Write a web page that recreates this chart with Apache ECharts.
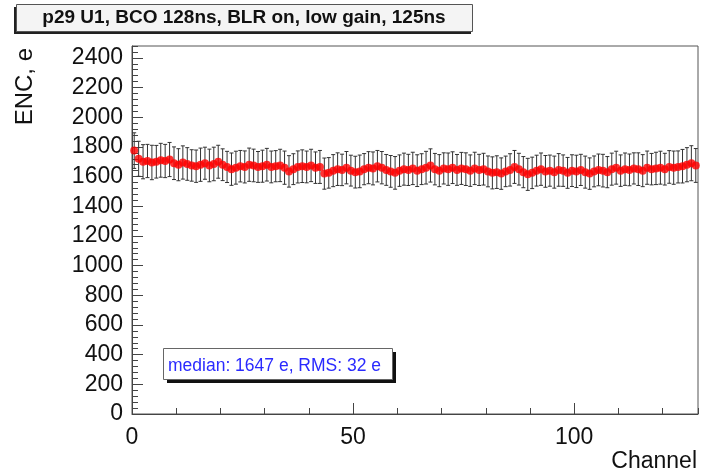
<!DOCTYPE html>
<html>
<head>
<meta charset="utf-8">
<script src="https://cdn.jsdelivr.net/npm/echarts@6/dist/echarts.min.js"></script>
<style>
  html, body { margin: 0; padding: 0; background: #fff; }
  #echarts { width: 702px; height: 473px; }
</style>
</head>
<body>
<div id="echarts"></div>
<script>
// 图数据
var titleText = 'p29 U1, BCO 128ns, BLR on, low gain, 125ns';
var statText = 'median: 1647 e, RMS: 32 e';
var xTicks = [0, 50, 100];
var yTicks = [0, 200, 400, 600, 800, 1000, 1200, 1400, 1600, 1800, 2000, 2200, 2400];
// ENC per channel (0..127)
var encValues = [
  1775, 1720, 1700, 1705, 1695, 1700, 1710, 1705, 1715, 1690,
  1680, 1695, 1685, 1675, 1670, 1680, 1690, 1675, 1685, 1700,
  1680, 1665, 1650, 1660, 1670, 1665, 1680, 1675, 1665, 1670,
  1680, 1665, 1670, 1675, 1660, 1635, 1650, 1665, 1670, 1665,
  1675, 1660, 1665, 1620, 1625, 1640, 1650, 1645, 1660, 1640,
  1630, 1635, 1650, 1660, 1655, 1670, 1660, 1645, 1635, 1625,
  1640, 1650, 1645, 1655, 1640, 1650, 1660, 1675, 1650, 1640,
  1655, 1650, 1660, 1645, 1655, 1650, 1640, 1655, 1645, 1650,
  1635, 1625, 1630, 1620, 1635, 1645, 1665, 1650, 1630, 1615,
  1625, 1640, 1650, 1635, 1640, 1630, 1645, 1640, 1625, 1640,
  1635, 1645, 1630, 1620, 1635, 1645, 1640, 1630, 1650, 1660,
  1640, 1650, 1645, 1655, 1650, 1640, 1660, 1650, 1655, 1660,
  1650, 1665, 1660, 1665, 1670, 1680, 1690, 1675
];
// error per channel
var encErrors = [
  120, 118, 115, 112, 116, 110, 114, 112, 115, 110,
  108, 112, 110, 106, 109, 112, 108, 110, 113, 111,
  107, 105, 109, 111, 106, 108, 112, 110, 104, 108,
  110, 107, 105, 109, 112, 106, 104, 108, 110, 107,
  109, 106, 111, 105, 103, 108, 110, 106, 109, 104,
  107, 110, 105, 108, 111, 106, 109, 104, 107, 110,
  106, 108, 105, 109, 107, 104, 110, 112, 106, 108,
  105, 109, 107, 104, 108, 110, 106, 109, 105, 107,
  104, 108, 110, 106, 103, 109, 111, 107, 105, 108,
  106, 104, 109, 107, 105, 108, 110, 106, 104, 107,
  109, 105, 108, 106, 104, 107, 110, 105, 108, 111,
  106, 109, 107, 105, 110, 108, 112, 106, 109, 111,
  107, 110, 112, 108, 113, 115, 118, 114
];

var fontFam = 'Liberation Sans, Arial, Helvetica, sans-serif';

// 组装点数据（道中心 = channel + 0.5）
var points = [];
var bars = [];
for (var i = 0; i < encValues.length; i++) {
  points.push([i + 0.5, encValues[i]]);
  bars.push([i + 0.5, encValues[i], encErrors[i]]);
}

var gridBox = { left: 132, right: 4, top: 46, bottom: 59 };

var option = {
  animation: false,
  backgroundColor: '#fff',
  grid: [
    Object.assign({ show: true, borderColor: '#555', borderWidth: 1, backgroundColor: '#fff' }, gridBox),
    Object.assign({ show: false }, gridBox)
  ],
  xAxis: [{
    gridIndex: 0,
    type: 'value',
    min: 0,
    max: 128,
    interval: 50,
    axisLine: { show: true, onZero: false, lineStyle: { color: '#444' } },
    axisTick: { show: true, inside: true, length: 11, lineStyle: { color: '#444' } },
    axisLabel: {
      showMaxLabel: false,
      margin: 12,
      fontSize: 23,
      color: '#111',
      fontFamily: fontFam,
      formatter: function (v) { return xTicks.indexOf(v) >= 0 ? v : ''; }
    },
    splitLine: { show: false }
  }, {
    gridIndex: 1,
    type: 'value',
    min: 0,
    max: 128,
    interval: 10,
    axisLine: { show: false },
    axisTick: { show: true, inside: true, length: 6, lineStyle: { color: '#444' } },
    axisLabel: { show: false },
    splitLine: { show: false }
  }],
  yAxis: [{
    gridIndex: 0,
    type: 'value',
    min: 0,
    max: 2480,
    interval: 200,
    axisLine: { show: true, onZero: false, lineStyle: { color: '#444' } },
    axisTick: { show: true, inside: true, length: 11, lineStyle: { color: '#444' } },
    axisLabel: {
      showMaxLabel: false,
      margin: 9,
      fontSize: 23,
      color: '#111',
      fontFamily: fontFam,
      formatter: function (v) { return yTicks.indexOf(v) >= 0 ? v : ''; }
    },
    splitLine: { show: false }
  }, {
    gridIndex: 1,
    type: 'value',
    min: 0,
    max: 2480,
    interval: 40,
    axisLine: { show: false },
    axisTick: { show: true, inside: true, length: 6, lineStyle: { color: '#444' } },
    axisLabel: { show: false },
    splitLine: { show: false }
  }],
  series: [{
    // 误差棒
    type: 'custom',
    xAxisIndex: 0,
    yAxisIndex: 0,
    data: bars,
    renderItem: function (params, api) {
      var top = api.coord([api.value(0), api.value(1) + api.value(2)]);
      var bot = api.coord([api.value(0), api.value(1) - api.value(2)]);
      var cap = 2;
      var st = { stroke: '#333', lineWidth: 1 };
      return {
        type: 'group',
        children: [
          { type: 'line', shape: { x1: top[0], y1: top[1], x2: bot[0], y2: bot[1] }, style: st },
          { type: 'line', shape: { x1: top[0] - cap, y1: top[1], x2: top[0] + cap, y2: top[1] }, style: st },
          { type: 'line', shape: { x1: bot[0] - cap, y1: bot[1], x2: bot[0] + cap, y2: bot[1] }, style: st }
        ]
      };
    },
    z: 2
  }, {
    type: 'scatter',
    xAxisIndex: 0,
    yAxisIndex: 0,
    data: points,
    symbol: 'circle',
    symbolSize: 8,
    itemStyle: { color: '#ff0000' },
    z: 3
  }],
  graphic: [
    // 标题框
    { type: 'rect', left: 14, top: 7, shape: { width: 457, height: 27 }, style: { fill: '#222' }, z: 10 },
    { type: 'rect', left: 16, top: 4, shape: { width: 456, height: 27 }, style: { fill: '#f4f4f4', stroke: '#555', lineWidth: 1 }, z: 11 },
    {
      type: 'text', x: 244, y: 18, z: 12,
      style: { text: titleText, font: 'bold 19px ' + fontFam, fill: '#111', align: 'center', verticalAlign: 'middle' }
    },
    // 统计框
    { type: 'rect', left: 167, top: 352, shape: { width: 229, height: 31 }, style: { fill: '#111' }, z: 10 },
    { type: 'rect', left: 163, top: 348, shape: { width: 229, height: 31 }, style: { fill: '#fff', stroke: '#666', lineWidth: 1 }, z: 11 },
    {
      type: 'text', x: 168, y: 366, z: 12,
      style: { text: statText, font: '17.5px ' + fontFam, fill: '#2a2aff', verticalAlign: 'middle' }
    },
    // 轴标题
    {
      type: 'text', x: 25, y: 48, rotation: Math.PI / 2, z: 12,
      style: { text: 'ENC, e', font: '24px ' + fontFam, fill: '#111', align: 'right', verticalAlign: 'middle' }
    },
    {
      type: 'text', x: 697, y: 462, z: 12,
      style: { text: 'Channel', font: '23px ' + fontFam, fill: '#111', align: 'right', verticalAlign: 'middle' }
    }
  ]
};

var chart = echarts.init(document.querySelector('#echarts'));
chart.setOption(option);
</script>
</body>
</html>
